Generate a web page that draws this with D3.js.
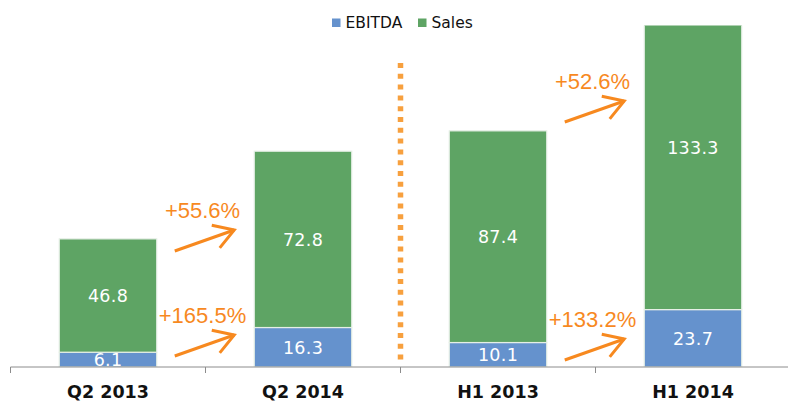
<!DOCTYPE html>
<html>
<head>
<meta charset="utf-8">
<script src="https://cdn.jsdelivr.net/npm/d3@7"></script>
<style>
  body { margin: 0; background: #fff; }
  svg { display: block; }
</style>
</head>
<body>
<svg id="chart" width="788" height="404"></svg>
<script>
// data
var periods = ["Q2 2013", "Q2 2014", "H1 2013", "H1 2014"];
var seriesNames = ["EBITDA", "Sales"];
var ebitda = [6.1, 16.3, 10.1, 23.7];
var sales = [46.8, 72.8, 87.4, 133.3];
var growthFrom = [0, 0, 2, 2];
var growthText = ["+55.6%", "+165.5%", "+52.6%", "+133.2%"];

var colors = { "EBITDA": "#6592cd", "Sales": "#5ea464" };
var orange = "#f7891f";

var width = 788, height = 404;
var baseY = 367, topY = 25.5;

var svg = d3.select("#chart");

var x = d3.scaleBand()
    .domain(periods)
    .range([10.5, 790.5])
    .paddingInner(0.5)
    .paddingOuter(0.25);

var y = d3.scaleLinear()
    .domain([0, 141])
    .range([baseY, topY]);

// stack the two series
var rows = periods.map(function(p, i) {
    return { period: p, EBITDA: ebitda[i], Sales: sales[i] };
});
var stacked = d3.stack().keys(seriesNames)(rows);

svg.append("defs").append("clipPath")
    .attr("id", "plot")
    .append("rect")
    .attr("x", 0).attr("y", topY)
    .attr("width", width).attr("height", baseY - topY);

var plot = svg.append("g").attr("clip-path", "url(#plot)");

var layer = plot.selectAll(".layer")
    .data(stacked)
    .enter()
    .append("g")
    .attr("class", "layer")
    .attr("fill", function(d) { return colors[d.key]; });

layer.selectAll("rect")
    .data(function(d) { return d; })
    .enter()
    .append("rect")
    .attr("x", function(d) { return x(d.data.period); })
    .attr("y", function(d) { return y(d[1]); })
    .attr("width", x.bandwidth())
    .attr("height", function(d) { return y(d[0]) - y(d[1]); })
    .attr("stroke", "#e6efe6")
    .attr("stroke-width", 1.2);

// value labels inside the segments
layer.selectAll("text")
    .data(function(d) { return d; })
    .enter()
    .append("text")
    .attr("x", function(d) { return x(d.data.period) + x.bandwidth() / 2; })
    .attr("y", function(d) { return (y(d[0]) + y(d[1])) / 2; })
    .attr("dy", "0.36em")
    .attr("text-anchor", "middle")
    .attr("fill", "#fff")
    .style("font-family", "'DejaVu Sans', Verdana, sans-serif")
    .style("font-size", "17.5px")
    .style("letter-spacing", "0.3px")
    .text(function(d) { return (d[1] - d[0]).toFixed(1); });

// x axis
var axis = svg.append("g").attr("transform", "translate(0," + baseY + ")");
axis.append("line")
    .attr("x1", 10.5).attr("x2", width)
    .attr("stroke", "#8c8c8c").attr("stroke-width", 1);

var bounds = d3.range(periods.length + 1).map(function(i) {
    return x.range()[0] + i * x.step();
});
axis.selectAll(".tick")
    .data(bounds)
    .enter()
    .append("line")
    .attr("x1", function(d) { return d; })
    .attr("x2", function(d) { return d; })
    .attr("y1", 0).attr("y2", 6)
    .attr("stroke", "#8c8c8c");

axis.selectAll(".lbl")
    .data(periods)
    .enter()
    .append("text")
    .attr("x", function(d) { return x(d) + x.bandwidth() / 2; })
    .attr("y", 31)
    .attr("text-anchor", "middle")
    .style("font-family", "'DejaVu Sans', Verdana, sans-serif")
    .style("font-weight", "bold")
    .style("font-size", "17.5px")
    .attr("fill", "#111")
    .text(function(d) { return d; });

// dotted separator between quarter and half-year
var sepX = bounds[2];
svg.append("line")
    .attr("x1", sepX).attr("x2", sepX)
    .attr("y1", 63).attr("y2", 360)
    .attr("stroke", "#f7a03e")
    .attr("stroke-width", 5.5)
    .attr("stroke-dasharray", "5,5.8");

// growth arrows
var tipLevels = [230, 335, 101, 339];   // pixel height of each arrow tip
growthText.forEach(function(t, k) {
    var i = growthFrom[k];
    var x0 = x(periods[i]) + x.bandwidth() + 18;
    var x1 = x(periods[i + 1]) - 20;
    var ty = tipLevels[k];
    var sy = ty + 21;
    var g = svg.append("g")
        .attr("stroke", orange)
        .attr("stroke-width", 3)
        .attr("fill", "none")
        .attr("stroke-linecap", "butt");
    g.append("line").attr("x1", x0).attr("y1", sy).attr("x2", x1).attr("y2", ty);
    var ang = Math.atan2(ty - sy, x1 - x0);
    var len = 23, spread = 0.55;
    g.append("path")
        .attr("stroke-linejoin", "miter")
        .attr("d", "M" + (x1 - len * Math.cos(ang - spread)) + "," + (ty - len * Math.sin(ang - spread)) +
            "L" + x1 + "," + ty +
            "L" + (x1 - len * Math.cos(ang + spread)) + "," + (ty - len * Math.sin(ang + spread)));
    svg.append("text")
        .attr("x", (x(periods[i]) + x.bandwidth() + x(periods[i + 1])) / 2 - 3)
        .attr("y", ty - 12)
        .attr("text-anchor", "middle")
        .attr("fill", orange)
        .style("font-family", "'Liberation Sans', Arial, sans-serif")
        .style("font-size", "22px")
        .text(t);
});

// legend
var legend = svg.append("g").attr("transform", "translate(332,0)");
var legendX = [0, 86];
seriesNames.forEach(function(n, i) {
    legend.append("rect")
        .attr("x", legendX[i]).attr("y", 18.5)
        .attr("width", 8.5).attr("height", 8.5)
        .attr("fill", colors[n]);
    legend.append("text")
        .attr("x", legendX[i] + 13.5).attr("y", 27.5)
        .style("font-family", "'DejaVu Sans', Verdana, sans-serif")
        .style("font-size", "15.5px")
        .attr("fill", "#111")
        .text(n);
});
</script>
</body>
</html>
